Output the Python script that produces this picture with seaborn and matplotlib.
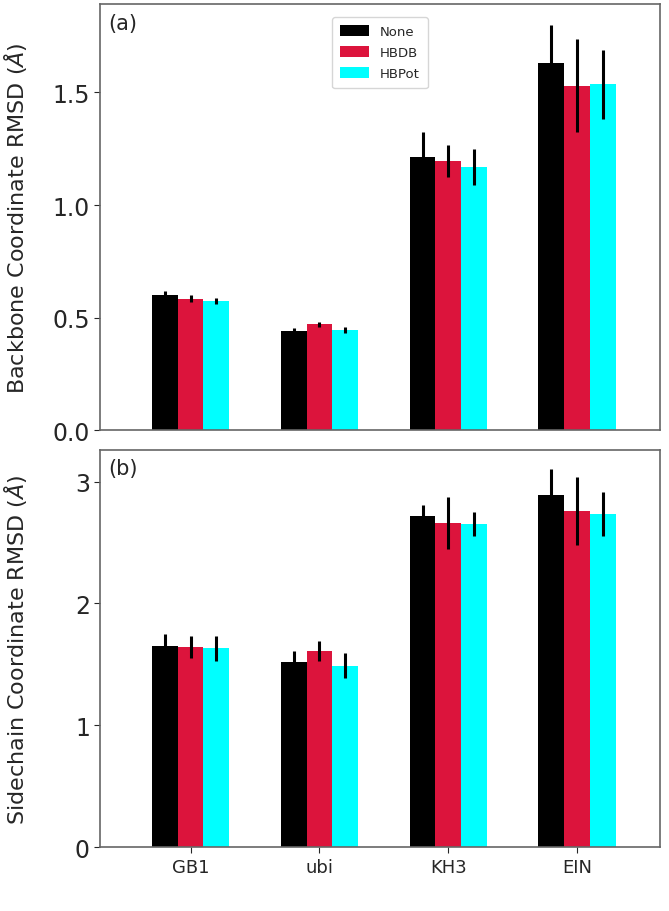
import matplotlib
matplotlib.use("Agg")
import matplotlib.pyplot as plt
import numpy as np
import pandas as pd
import seaborn as sns

# data
proteins = ["GB1", "ubi", "KH3", "EIN"]
methods = ["None", "HBDB", "HBPot"]
colors = ["#000000", "#DC143C", "#00FFFF"]

backbone = {
    "None":  [0.600, 0.440, 1.215, 1.630],
    "HBDB":  [0.585, 0.470, 1.195, 1.530],
    "HBPot": [0.575, 0.445, 1.170, 1.535],
}
backbone_err = {
    "None":  [0.020, 0.015, 0.110, 0.170],
    "HBDB":  [0.015, 0.010, 0.070, 0.205],
    "HBPot": [0.013, 0.012, 0.080, 0.155],
}
sidechain = {
    "None":  [1.65, 1.52, 2.72, 2.89],
    "HBDB":  [1.64, 1.61, 2.66, 2.76],
    "HBPot": [1.63, 1.49, 2.65, 2.73],
}
sidechain_err = {
    "None":  [0.10, 0.09, 0.09, 0.21],
    "HBDB":  [0.09, 0.08, 0.21, 0.28],
    "HBPot": [0.10, 0.10, 0.10, 0.18],
}


def long_table(vals, errs):
    rows = []
    for m in methods:
        for p, v, e in zip(proteins, vals[m], errs[m]):
            rows.append({"protein": p, "method": m, "rmsd": v, "err": e})
    return pd.DataFrame(rows)


sns.set_style("white")
plt.rcParams["font.family"] = ["DejaVu Sans"]

fig = plt.figure(figsize=(6.69, 9.12), dpi=100)
ax1 = fig.add_axes([0.150, 0.527, 0.836, 0.467])
ax2 = fig.add_axes([0.150, 0.070, 0.836, 0.435])


def draw(ax, vals, errs, yticks, label, tag, legend=False):
    df = long_table(vals, errs)
    sns.barplot(data=df, x="protein", y="rmsd", hue="method", order=proteins,
                hue_order=methods, palette=colors, saturation=1, width=0.6,
                errorbar=None, linewidth=0, legend=legend, ax=ax)
    # error bars centred on each bar
    for cont, m in zip(ax.containers, methods):
        xs = [b.get_x() + b.get_width() / 2 for b in cont]
        ax.errorbar(xs, vals[m], yerr=errs[m], fmt="none", ecolor="black",
                    elinewidth=2.2, capsize=0, zorder=5)
    ax.set_xlim(-0.70, 3.64)
    # default 5% headroom above the tallest error bar
    top = (df["rmsd"] + df["err"]).max() * 1.05
    ax.set_ylim(0, top)
    ax.set_yticks(yticks)
    ax.set_xlabel("")
    ax.set_ylabel(label, fontsize=16)
    ax.yaxis.set_label_coords(-0.128, 0.5)
    ax.tick_params(axis="y", labelsize=17, length=4, left=True)
    ax.tick_params(axis="x", labelsize=13, length=4, bottom=True)
    for s in ax.spines.values():
        s.set_color("#666666")
        s.set_linewidth(1.2)
    ax.text(0.015, 0.98, tag, transform=ax.transAxes, fontsize=15,
            va="top", ha="left")


draw(ax1, backbone, backbone_err, [0.0, 0.5, 1.0, 1.5],
     "Backbone Coordinate RMSD ($Å$)", "(a)", legend=True)
draw(ax2, sidechain, sidechain_err, [0, 1, 2, 3],
     "Sidechain Coordinate RMSD ($Å$)", "(b)")

ax1.set_xticklabels([])
ax1.tick_params(axis="x", length=0)
ax1.set_yticklabels(["0.0", "0.5", "1.0", "1.5"])
leg = ax1.legend(loc="upper center", bbox_to_anchor=(0.5, 0.985),
                 fontsize=9.5, frameon=True, handlelength=2.2,
                 handleheight=0.9, borderpad=0.6, labelspacing=0.6)
leg.get_frame().set_edgecolor("#cccccc")

fig.savefig("out.png", dpi=100)
